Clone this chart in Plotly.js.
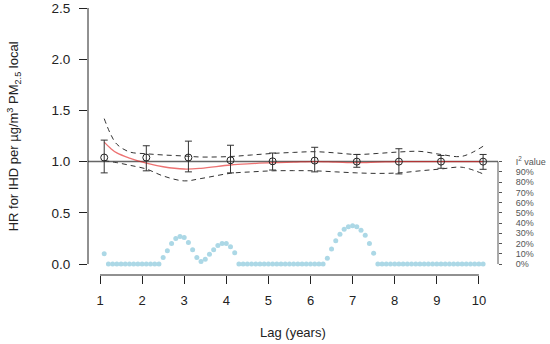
<!DOCTYPE html>
<html>
<head>
<meta charset="utf-8">
<script src="https://cdn.plot.ly/plotly-3.0.1.min.js"></script>
<style>html,body{margin:0;padding:0;background:#fff;}#chart{width:550px;height:344px;}</style>
</head>
<body>
<div id="chart"></div>
<script>
// Lag positions of the pooled estimates (open circles with CI bars)
const pointLag = [1.1, 2.1, 3.1, 4.1, 5.1, 6.1, 7.1, 8.1, 9.1, 10.1];
const pointHR  = [1.04, 1.04, 1.04, 1.013, 1.003, 1.01, 1.0, 1.0, 1.0, 1.0];
const pointLo  = [0.89, 0.91, 0.90, 0.89, 0.918, 0.90, 0.945, 0.88, 0.935, 0.925];
const pointHi  = [1.21, 1.155, 1.20, 1.16, 1.084, 1.14, 1.07, 1.126, 1.06, 1.07];

// Smooth curve (red) with its confidence band (dashed)
const curveLag = [1.1, 1.25, 1.4, 1.7, 2.1, 2.5, 3.0, 3.4, 4.1, 4.6, 5.1, 5.6, 6.1, 6.6, 7.1, 7.6, 8.1, 8.6, 9.1, 9.6, 10.1];
const curveHR  = [1.19, 1.13, 1.085, 1.035, 0.985, 0.95, 0.928, 0.935, 0.967, 0.98, 0.99, 0.995, 1.0, 0.995, 0.99, 0.995, 1.0, 1.0, 1.0, 1.0, 1.0];
const curveHi  = [1.42, 1.27, 1.17, 1.095, 1.077, 1.065, 1.055, 1.045, 1.05, 1.065, 1.08, 1.09, 1.097, 1.085, 1.07, 1.08, 1.094, 1.1, 1.07, 1.052, 1.15];
const curveLo  = [1.01, 1.0, 0.99, 0.965, 0.928, 0.86, 0.812, 0.835, 0.886, 0.9, 0.91, 0.912, 0.91, 0.9, 0.89, 0.885, 0.89, 0.91, 0.928, 0.945, 0.88];

// I-squared heterogeneity (%) at each lag
const i2Lag = [1.1,1.2,1.3,1.4,1.5,1.6,1.7,1.8,1.9,2.0,2.1,2.2,2.3,2.4,2.5,2.6,2.7,2.8,2.9,3.0,
  3.1,3.2,3.3,3.4,3.5,3.6,3.7,3.8,3.9,4.0,4.1,4.2,4.3,4.4,4.5,4.6,4.7,4.8,4.9,5.0,
  5.1,5.2,5.3,5.4,5.5,5.6,5.7,5.8,5.9,6.0,6.1,6.2,6.3,6.4,6.5,6.6,6.7,6.8,6.9,7.0,
  7.1,7.2,7.3,7.4,7.5,7.6,7.7,7.8,7.9,8.0,8.1,8.2,8.3,8.4,8.5,8.6,8.7,8.8,8.9,9.0,
  9.1,9.2,9.3,9.4,9.5,9.6,9.7,9.8,9.9,10.0,10.1];
const i2Val = [10,0,0,0,0,0,0,0,0,0,0,0,0,0,6.5,13,20,25,27,26,
  21,14,6.5,2.6,4.6,9.5,14,18,20,20,17,11,0,0,0,0,0,0,0,0,
  0,0,0,0,0,0,0,0,0,0,0,0,0,5.6,14.6,22.8,29,34,36.5,37.5,
  36.5,33,28,20,10.5,0,0,0,0,0,0,0,0,0,0,0,0,0,0,0,
  0,0,0,0,0,0,0,0,0,0,0];

// Axis ticks
const xTicks = [1,2,3,4,5,6,7,8,9,10];
const yTicks = [0, 0.5, 1.0, 1.5, 2.0, 2.5];
const i2Ticks = [0,10,20,30,40,50,60,70,80,90,100];
const i2TickText = ['0%','10%','20%','30%','40%','50%','60%','70%','80%','90%','I<sup>2</sup> value'];

const FONT = 'Liberation Sans, Arial, Helvetica, sans-serif';

const traces = [
  {x: i2Lag, y: i2Val, yaxis: 'y2', type: 'scatter', mode: 'markers',
   marker: {color: '#acd8e6', size: 5}, hoverinfo: 'skip'},
  {x: curveLag, y: curveHi, type: 'scatter', mode: 'lines',
   line: {color: '#333', width: 1, dash: '5px,4px', shape: 'spline', smoothing: 1}},
  {x: curveLag, y: curveLo, type: 'scatter', mode: 'lines',
   line: {color: '#333', width: 1, dash: '5px,4px', shape: 'spline', smoothing: 1}},
  {x: curveLag, y: curveHR, type: 'scatter', mode: 'lines',
   line: {color: 'rgba(225,20,20,0.6)', width: 1.3, shape: 'spline', smoothing: 1}},
  {x: pointLag, y: pointHR, type: 'scatter', mode: 'markers',
   marker: {symbol: 'circle-open', size: 7, color: '#222', line: {width: 1}},
   error_y: {type: 'data', symmetric: false,
     array: pointHi.map((h, i) => h - pointHR[i]),
     arrayminus: pointLo.map((l, i) => pointHR[i] - l),
     color: '#333', thickness: 1, width: 3.5}}
];

const layout = {
  width: 550, height: 344,
  margin: {l: 88, r: 52, t: 8, b: 69},
  paper_bgcolor: '#fff', plot_bgcolor: '#fff',
  showlegend: false,
  font: {family: FONT, color: '#222', size: 13},
  xaxis: {range: [0.715, 10.454], tickvals: xTicks, ticks: 'outside', ticklen: 8,
    tickcolor: '#222', showline: false, showgrid: false, zeroline: false,
    tickfont: {size: 13, color: '#222'}, ticklabelstandoff: 5},
  yaxis: {range: [-0.107, 2.5], tickvals: yTicks, tickformat: '.1f', ticks: 'outside',
    ticklen: 8, tickcolor: '#222', showline: false, showgrid: false, zeroline: false,
    tickfont: {size: 13.5, color: '#222'}, ticklabelstandoff: 6},
  yaxis2: {overlaying: 'y', side: 'right', range: [-10.7, 250], tickvals: i2Ticks,
    ticktext: i2TickText, ticks: 'outside', ticklen: 3, tickcolor: '#555',
    showline: false, showgrid: false, zeroline: false,
    tickfont: {size: 9, color: '#555'}, ticklabelstandoff: 12},
  shapes: [
    {type: 'line', xref: 'paper', x0: 0, x1: 1, yref: 'y', y0: 1, y1: 1,
     line: {color: '#666', width: 1.5}, layer: 'below'},
    {type: 'line', xref: 'paper', x0: 0, x1: 0, yref: 'y', y0: yTicks[0], y1: yTicks[yTicks.length-1],
     line: {color: '#222', width: 1}},
    {type: 'line', xref: 'x', x0: xTicks[0], x1: xTicks[xTicks.length-1], yref: 'paper', y0: 0, y1: 0,
     line: {color: '#222', width: 1}},
    {type: 'line', xref: 'paper', x0: 1, x1: 1, yref: 'y2', y0: i2Ticks[0], y1: i2Ticks[i2Ticks.length-1],
     line: {color: '#555', width: 1}}
  ],
  annotations: [
    {text: 'HR for IHD per µg/m<sup>3</sup> PM<sub>2.5</sub> local', textangle: -90,
     xref: 'paper', yref: 'paper', x: -0.18, y: 0.52, xanchor: 'center', yanchor: 'middle',
     showarrow: false, font: {size: 13, color: '#222'}},
    {text: 'Lag (years)', xref: 'paper', yref: 'paper', x: 0.5, y: -0.2135,
     xanchor: 'center', yanchor: 'middle', showarrow: false, font: {size: 13, color: '#222'}}
  ]
};

Plotly.newPlot('chart', traces, layout, {displayModeBar: false, staticPlot: true});
</script>
</body>
</html>
